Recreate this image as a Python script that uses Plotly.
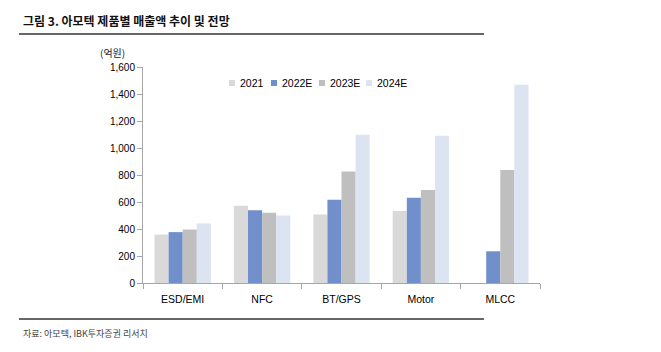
import plotly.graph_objects as go

categories = ["ESD/EMI", "NFC", "BT/GPS", "Motor", "MLCC"]
series_names = ["2021", "2022E", "2023E", "2024E"]
v2021 = [359, 572, 508, 533, 0]
v2022 = [377, 538, 617, 632, 235]
v2023 = [396, 520, 825, 689, 837]
v2024 = [441, 500, 1098, 1090, 1469]
y_ticks = [0, 200, 400, 600, 800, 1000, 1200, 1400, 1600]
y_tick_labels = ["0", "200", "400", "600", "800", "1,000", "1,200", "1,400", "1,600"]

colors = ["#D9D9D9", "#7190CB", "#BFBFBF", "#DCE3F1"]
W, H = 661, 352
L, R, T, B = 143, 121, 67, 69
pw = W - L - R
ph = H - T - B

def px(x):
    return (x - L) / pw

def py(y):
    return (H - B - y) / ph

fig = go.Figure()
for name, vals, c in zip(series_names, [v2021, v2022, v2023, v2024], colors):
    fig.add_trace(go.Bar(name=name, x=categories, y=vals, marker=dict(color=c, line=dict(width=0))))

fig.update_layout(
    width=W, height=H,
    margin=dict(l=L, r=R, t=T, b=B),
    paper_bgcolor="white", plot_bgcolor="white",
    barmode="group", bargap=0.29, bargroupgap=0,
    font=dict(family="Liberation Sans, Arial, sans-serif", size=10, color="#000"),
    showlegend=False,
    xaxis=dict(type="category", showline=True, linecolor="#A6A6A6", linewidth=1,
               ticks="outside", tickson="boundaries", ticklen=5, tickcolor="#A6A6A6",
               ticklabelstandoff=6,
               showgrid=False, tickfont=dict(size=10.5, color="#000")),
    yaxis=dict(range=[0, 1600], tickvals=y_ticks, ticktext=y_tick_labels,
               showline=True, linecolor="#A6A6A6", linewidth=1, ticks="outside",
               ticklen=5, tickcolor="#A6A6A6", showgrid=False, zeroline=False,
               tickfont=dict(size=10, color="#000")),
)

# manual legend (square x-left, text x-left in pixels)
legend_sq_x = [229, 271, 319, 366]
for name, c, sx in zip(series_names, colors, legend_sq_x):
    fig.add_shape(type="rect", xref="paper", yref="paper", x0=px(sx), x1=px(sx + 6),
                  y0=py(86), y1=py(80), fillcolor=c, line=dict(width=0))
    fig.add_annotation(text=name, xref="paper", yref="paper", x=px(sx + 9), y=py(83),
                       xanchor="left", yanchor="middle", showarrow=False,
                       font=dict(size=10.5, color="#000"))

fig.add_annotation(text="<b>그림 3. 아모텍 제품별 매출액 추이 및 전망</b>", xref="paper", yref="paper",
                   x=px(21), y=py(20), xanchor="left", yanchor="middle", showarrow=False,
                   font=dict(family="Noto Sans CJK KR", size=12, color="#111"))
fig.add_annotation(text="(억원)", xref="paper", yref="paper",
                   x=px(112), y=py(53), xanchor="center", yanchor="middle", showarrow=False,
                   font=dict(family="Noto Sans CJK KR", size=10, color="#222"))
fig.add_annotation(text="자료: 아모텍, IBK투자증권 리서치", xref="paper", yref="paper",
                   x=px(21), y=py(333), xanchor="left", yanchor="middle", showarrow=False,
                   font=dict(family="Noto Sans CJK KR", size=9, color="#444"))
fig.add_shape(type="line", xref="paper", yref="paper", x0=px(19), x1=px(484), y0=py(34), y1=py(34),
              line=dict(color="#333", width=1.5))
fig.add_shape(type="line", xref="paper", yref="paper", x0=px(19), x1=px(484), y0=py(319), y1=py(319),
              line=dict(color="#333", width=1.5))

fig.write_html("out.html")
